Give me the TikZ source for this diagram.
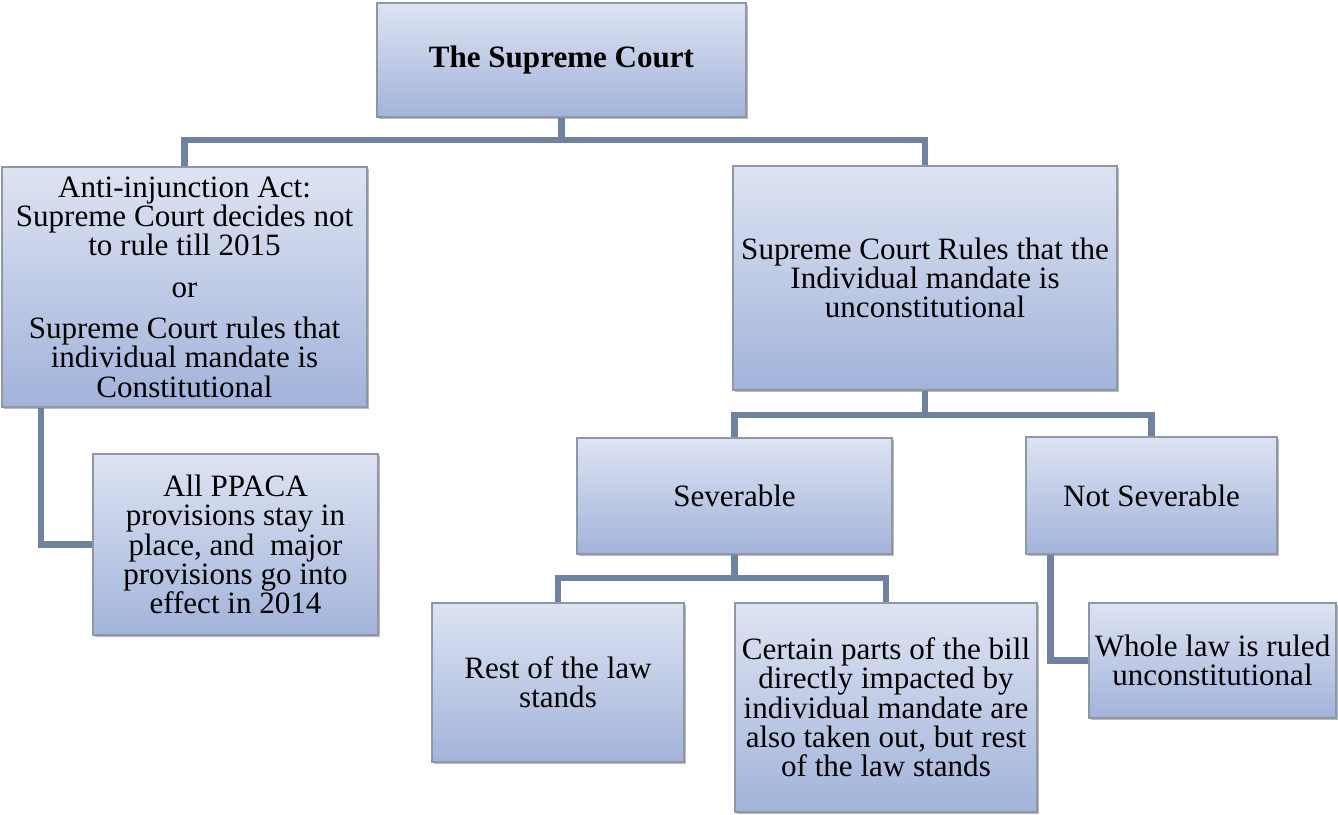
\documentclass[tikz,border=0pt]{standalone}
\usepackage{fontspec}
\setmainfont{Liberation Serif}
\usetikzlibrary{shadows}
\definecolor{boxtop}{HTML}{DDE3F2}
\definecolor{boxbot}{HTML}{A2B3DA}
\definecolor{boxline}{HTML}{8F97A6}
\definecolor{conn}{HTML}{6F829F}
\tikzset{
  box/.style={draw=boxline, line width=1.2pt, top color=boxtop, bottom color=boxbot,
    align=center, inner sep=0pt, font=\fontsize{23.3pt}{22pt}\selectfont,
    drop shadow={shadow xshift=1.5pt, shadow yshift=-1.5pt, fill=black!45, opacity=0.6}},
  conn/.style={draw=conn, line width=4.6pt, line join=miter}
}
\begin{document}
\begin{tikzpicture}[x=0.75pt,y=-0.75pt]
\useasboundingbox (0,0) rectangle (1338,814);
% junction points of the connectors
\coordinate (b1) at (563,140);
\coordinate (b2) at (927,415);
\coordinate (b3) at (736,578);
% boxes
\node[box, minimum width=276.75pt, minimum height=85.5pt] (top) at (561.5,60) {\textbf{The Supreme Court}};
\node[box, minimum width=273.75pt, minimum height=180pt] (L) at (184.5,287)
  {Anti-injunction Act:\\ Supreme Court decides not\\ to rule till 2015\\[9pt] or\\[9pt] Supreme Court rules that\\ individual mandate is\\ Constitutional};
\node[box, minimum width=288pt, minimum height=168pt] (R) at (925,278)
  {Supreme Court Rules that the\\ Individual mandate is\\ unconstitutional};
\node[box, minimum width=213.75pt, minimum height=135.75pt] (all) at (235.5,544.5)
  {All PPACA\\ provisions stay in\\ place, and\ \ major\\ provisions go into\\ effect in 2014};
\node[box, minimum width=236.25pt, minimum height=87pt] (sev) at (734.5,496) {Severable};
\node[box, minimum width=188.25pt, minimum height=87.75pt] (ns) at (1151.5,495.5) {Not Severable};
\node[box, minimum width=189pt, minimum height=119.25pt] (rest) at (558,682.5) {Rest of the law\\ stands};
\node[box, minimum width=226.5pt, minimum height=156.75pt] (cert) at (886,707.5)
  {Certain parts of the bill\\ directly impacted by\\ individual mandate are\\ also taken out, but rest\\ of the law stands};
\node[box, minimum width=185.25pt, minimum height=86.25pt] (whole) at (1212.5,660.5) {Whole law is ruled\\ unconstitutional};
% connector lines
\draw[conn] (top.south) -- (top.south |- b1);
\draw[conn] (L.north) |- (b1) -| (R.north);
\draw[conn] (R.south) -- (R.south |- b2);
\draw[conn] (sev.north) |- (b2) -| (ns.north);
\draw[conn] (sev.south) -- (sev.south |- b3);
\draw[conn] (rest.north) |- (b3) -| (cert.north);
\draw[conn] ([xshift=30pt]L.south west) |- (all.west);
\draw[conn] ([xshift=19pt]ns.south west) |- (whole.west);
\end{tikzpicture}
\end{document}
